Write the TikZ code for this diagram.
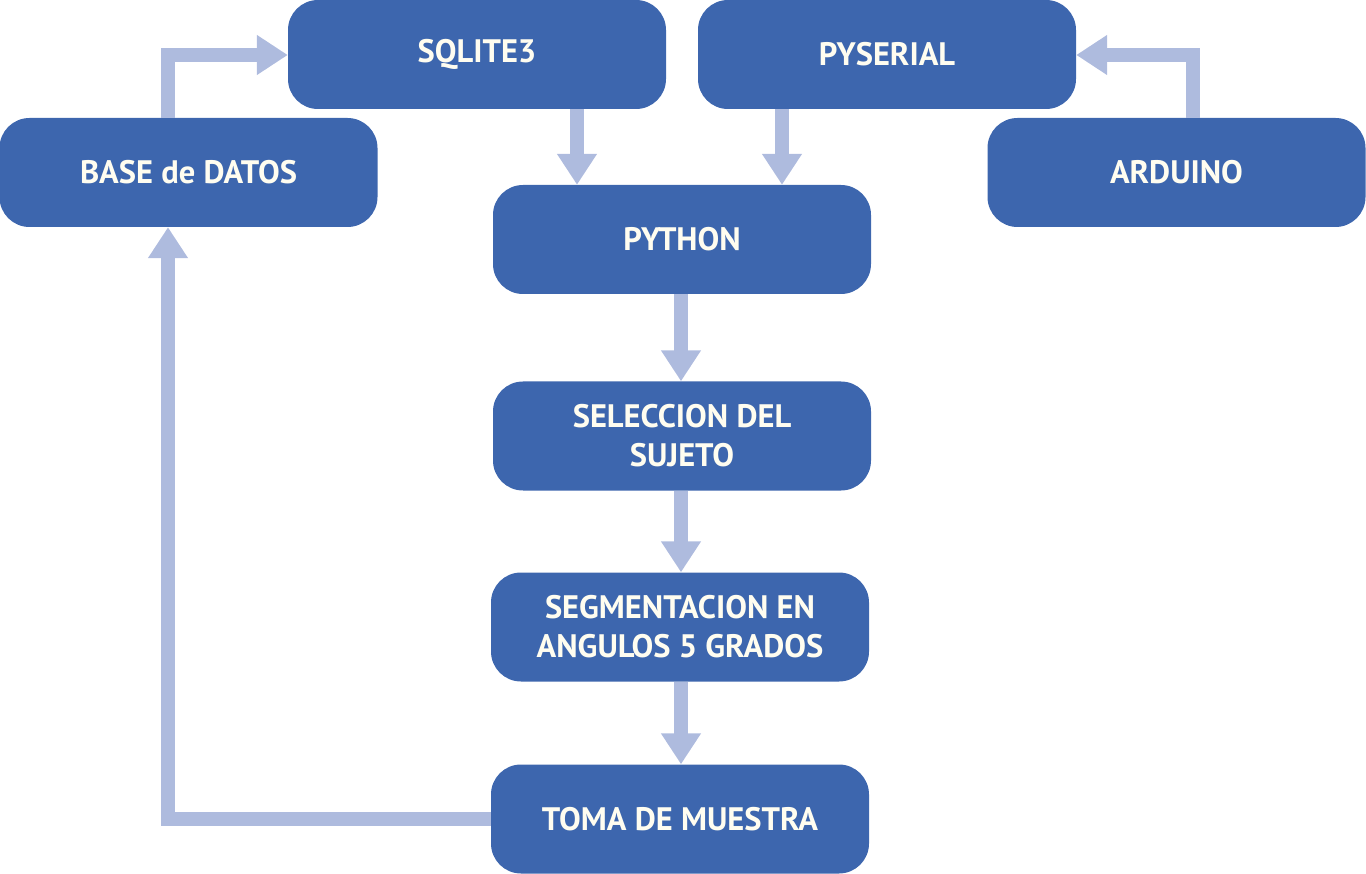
\documentclass[tikz,border=0pt]{standalone}
\usepackage{fontspec}
\setmainfont{PT Sans}
\usetikzlibrary{arrows.meta,calc}
\definecolor{boxblue}{HTML}{3D66AE}
\definecolor{arrowblue}{HTML}{AEBBDE}
\definecolor{txt}{HTML}{FFFDF0}
\tikzset{
  flowbox/.style={fill=boxblue, rounded corners=30pt, minimum width=378pt, minimum height=109pt, inner sep=0pt,
    text=txt, font=\fontsize{32.5}{39}\selectfont\bfseries, align=center},
  flowarrow/.style={draw=arrowblue, line width=14pt, line join=miter,
    -{Triangle[length=31pt,width=38pt]}}
}
\begin{document}
\begin{tikzpicture}[x=1pt,y=-1pt]
\useasboundingbox (0,0) rectangle (1366,874);
\node[flowbox] (sqlite) at (477,54.5) {SQLITE3};
\node[flowbox] (pyserial) at (887,54.5) {PYSERIAL};
\node[flowbox] (base) at (188.5,172.5) {BASE de DATOS};
\node[flowbox] (arduino) at (1176.5,172.5) {ARDUINO};
\node[flowbox] (python) at (682,239.5) {PYTHON};
\node[flowbox] (sel) at (682,436) {SELECCION DEL\\SUJETO};
\node[flowbox] (seg) at (680,627) {SEGMENTACION EN\\ANGULOS 5 GRADOS};
\node[flowbox] (toma) at (680,819) {TOMA DE MUESTRA};

\draw[flowarrow] (168,0 |- base.north) |- (sqlite.west |- 0,55);
\draw[flowarrow] (1193,0 |- arduino.north) |- (pyserial.east |- 0,55);
\draw[flowarrow] (577,0 |- sqlite.south) -- (577,0 |- python.north);
\draw[flowarrow] (782,0 |- pyserial.south) -- (782,0 |- python.north);
\draw[flowarrow] (681,0 |- python.south) -- (681,0 |- sel.north);
\draw[flowarrow] (681,0 |- sel.south) -- (681,0 |- seg.north);
\draw[flowarrow] (681,0 |- seg.south) -- (681,0 |- toma.north);
\draw[flowarrow] (toma.west) -| (168,0 |- base.south);
\end{tikzpicture}
\end{document}
